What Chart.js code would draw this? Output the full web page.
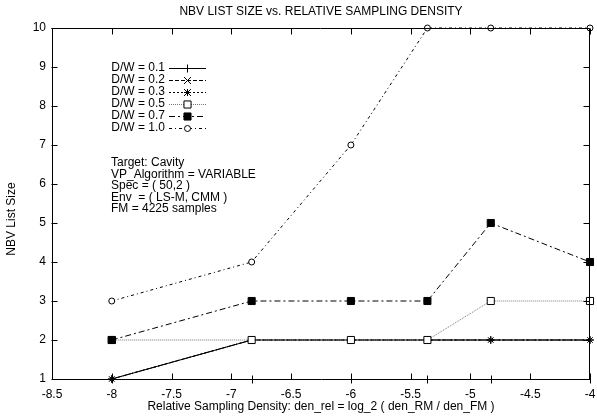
<!DOCTYPE html>
<html>
<head>
<meta charset="utf-8">
<script src="https://cdn.jsdelivr.net/npm/chart.js@4.4.0/dist/chart.umd.min.js"></script>
<style>
  html, body { margin: 0; padding: 0; background: #fff; }
  #wrap { width: 597px; height: 416px; position: relative; }
</style>
</head>
<body>
<div id="wrap"><canvas id="nbvChart"></canvas></div>
<script>
// ---- data ----
const xValues = [-8, -6.83, -6, -5.36, -4.83, -4];   // log_2(den_RM / den_FM)
const seriesLabels = ["D/W = 0.1", "D/W = 0.2", "D/W = 0.3", "D/W = 0.5", "D/W = 0.7", "D/W = 1.0"];
const dw01 = [1, 2, 2, 2, 2, 2];
const dw02 = [1, 2, 2, 2, 2, 2];
const dw03 = [1, 2, 2, 2, 2, 2];
const dw05 = [2, 2, 2, 2, 3, 3];
const dw07 = [2, 3, 3, 3, 5, 4];
const dw10 = [3, 4, 7, 10, 10, 10];
const xTickMin = -8.5, xTickMax = -4, xTickStep = 0.5;
const yTickMin = 1, yTickMax = 10, yTickStep = 1;
const titleText = "NBV LIST SIZE vs. RELATIVE SAMPLING DENSITY";
const xTitle = "Relative Sampling Density: den_rel = log_2 ( den_RM / den_FM )";
const yTitle = "NBV List Size";
const noteLines = ["Target: Cavity", "VP_Algorithm = VARIABLE", "Spec = ( 50,2 )", "Env  = ( LS-M, CMM )", "FM = 4225 samples"];

const FONT = "Liberation Sans, Arial, Helvetica, sans-serif";

// line / marker style per series
const styles = [
  { dash: [],           point: "cross",    r: 4,   fill: "#000", line: "#000" },
  { dash: [4, 2],       point: "crossRot", r: 3.5, fill: "#000", line: "#000" },
  { dash: [2, 2],       point: "star",     r: 3.5, fill: "#000", line: "#000" },
  { dash: [1, 1],       point: "rect",     r: 5,   fill: "#fff", line: "#777" },
  { dash: [6, 3, 2, 3], point: "rect",     r: 5,   fill: "#000", line: "#000" },
  { dash: [3, 3, 1, 3], point: "circle",   r: 3,   fill: "#fff", line: "#000" }
];
const seriesData = [dw01, dw02, dw03, dw05, dw07, dw10];

// later series sit on top, like gnuplot
const datasets = seriesData.map((vals, i) => ({
  label: seriesLabels[i],
  data: xValues.map((x, j) => ({ x, y: vals[j] })),
  order: seriesData.length - 1 - i,
  borderColor: styles[i].line,
  borderWidth: 1,
  borderDash: styles[i].dash,
  pointStyle: styles[i].point,
  pointRadius: styles[i].r,
  pointBorderColor: "#000",
  pointBackgroundColor: styles[i].fill,
  pointBorderWidth: 1,
  fill: false,
  tension: 0,
  clip: 6
}));

function drawMarker(ctx, st, x, y) {
  ctx.save();
  ctx.setLineDash([]);
  ctx.strokeStyle = "#000";
  ctx.fillStyle = st.fill;
  ctx.lineWidth = 1;
  const r = st.r;
  ctx.beginPath();
  if (st.point === "cross") {
    ctx.moveTo(x - r, y); ctx.lineTo(x + r, y);
    ctx.moveTo(x, y - r); ctx.lineTo(x, y + r);
    ctx.stroke();
  } else if (st.point === "crossRot") {
    ctx.moveTo(x - r, y - r); ctx.lineTo(x + r, y + r);
    ctx.moveTo(x - r, y + r); ctx.lineTo(x + r, y - r);
    ctx.stroke();
  } else if (st.point === "star") {
    ctx.moveTo(x - r, y); ctx.lineTo(x + r, y);
    ctx.moveTo(x, y - r); ctx.lineTo(x, y + r);
    ctx.moveTo(x - r, y - r); ctx.lineTo(x + r, y + r);
    ctx.moveTo(x - r, y + r); ctx.lineTo(x + r, y - r);
    ctx.stroke();
  } else if (st.point === "rect") {
    const s = r * Math.SQRT1_2;
    ctx.rect(x - s, y - s, 2 * s, 2 * s);
    ctx.fill(); ctx.stroke();
  } else {
    ctx.arc(x, y, r, 0, Math.PI * 2);
    ctx.fill(); ctx.stroke();
  }
  ctx.restore();
}

// key, notes, titles, top/right border and inward ticks
const gnuplotLook = {
  id: "gnuplotLook",
  afterDraw(chart) {
    const ctx = chart.ctx;
    const a = chart.chartArea;
    const xs = chart.scales.x, ys = chart.scales.y;
    ctx.save();
    ctx.fillStyle = "#000";
    ctx.font = "12px " + FONT;
    ctx.textBaseline = "middle";

    seriesLabels.forEach((lab, i) => {
      const y = 68 + 12 * i;
      ctx.textAlign = "right";
      ctx.fillText(lab, 165, y);
      ctx.save();
      ctx.lineWidth = 1;
      ctx.strokeStyle = styles[i].line;
      ctx.setLineDash(styles[i].dash);
      ctx.beginPath();
      ctx.moveTo(169, y + 0.5); ctx.lineTo(206, y + 0.5);
      ctx.stroke();
      ctx.restore();
      drawMarker(ctx, styles[i], 187.5, y + 0.5);
    });

    ctx.textAlign = "left";
    noteLines.forEach((t, i) => ctx.fillText(t, 111, 163 + 11.5 * i));

    ctx.textAlign = "center";
    const cx = (a.left + a.right) / 2;
    ctx.fillText(titleText, cx, 12);
    ctx.fillText(xTitle, cx, 407);
    ctx.save();
    ctx.translate(12, 219);
    ctx.rotate(-Math.PI / 2);
    ctx.fillText(yTitle, 0, 0);
    ctx.restore();

    const L = Math.round(a.left) - 0.5, R = Math.round(a.right) - 0.5;
    const T = Math.round(a.top) + 0.5, B = Math.round(a.bottom) + 0.5;
    ctx.strokeStyle = "#000";
    ctx.lineWidth = 1;
    ctx.setLineDash([]);
    ctx.beginPath();
    ctx.moveTo(L, T); ctx.lineTo(R, T); ctx.lineTo(R, B);
    for (let v = xTickMin; v <= xTickMax + 1e-9; v += xTickStep) {
      const px = Math.round(xs.getPixelForValue(v)) + 0.5;
      ctx.moveTo(px, B); ctx.lineTo(px, B - 6);
      ctx.moveTo(px, T); ctx.lineTo(px, T + 6);
    }
    for (let v = yTickMin; v <= yTickMax; v += yTickStep) {
      const py = Math.round(ys.getPixelForValue(v)) + 0.5;
      ctx.moveTo(L, py); ctx.lineTo(L + 6, py);
      ctx.moveTo(R, py); ctx.lineTo(R - 6, py);
    }
    // small marks at the sampled densities
    xValues.forEach(v => {
      const px = Math.round(xs.getPixelForValue(v)) + 0.5;
      ctx.moveTo(px, B - 4); ctx.lineTo(px, B + 4);
    });
    ctx.stroke();
    ctx.restore();
  }
};

new Chart(document.getElementById("nbvChart"), {
  type: "line",
  data: { datasets },
  options: {
    responsive: true,
    maintainAspectRatio: false,
    animation: false,
    layout: { padding: { top: 28, right: 7, left: 0, bottom: 0 } },
    plugins: { legend: { display: false }, title: { display: false }, tooltip: { enabled: false } },
    scales: {
      x: {
        type: "linear",
        min: xTickMin, max: xTickMax,
        afterFit: s => { s.height = 37; s.paddingLeft = 0; s.paddingRight = 0; },
        grid: { display: false, drawTicks: false },
        border: { display: true, color: "#000", width: 1 },
        ticks: {
          stepSize: xTickStep, padding: 8, color: "#000", maxRotation: 0, autoSkip: false,
          font: { family: FONT, size: 12 },
          callback: v => String(v)
        }
      },
      y: {
        type: "linear",
        min: yTickMin, max: yTickMax,
        afterFit: s => { s.width = 52; s.paddingTop = 0; s.paddingBottom = 0; },
        grid: { display: false, drawTicks: false },
        border: { display: true, color: "#000", width: 1 },
        ticks: {
          stepSize: yTickStep, padding: 6, color: "#000",
          font: { family: FONT, size: 12 }
        }
      }
    }
  },
  plugins: [gnuplotLook]
});
</script>
</body>
</html>
